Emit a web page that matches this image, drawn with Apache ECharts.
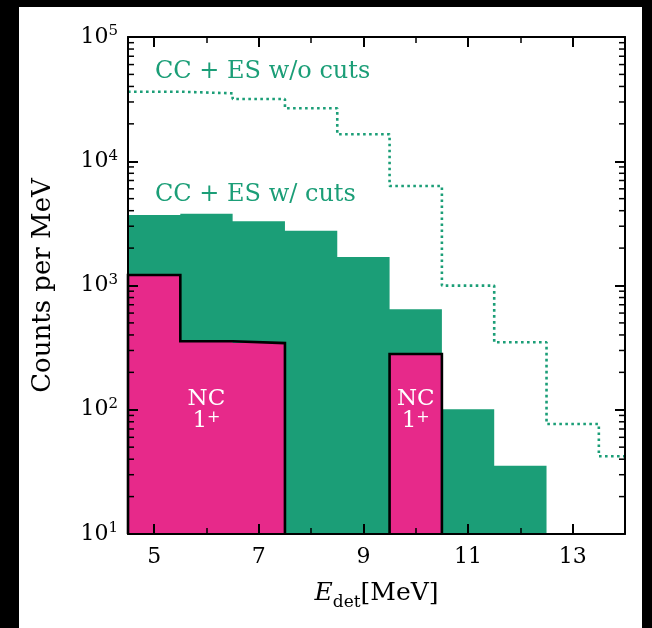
<!DOCTYPE html>
<html>
<head>
<meta charset="utf-8">
<script src="https://cdn.jsdelivr.net/npm/echarts@6/dist/echarts.min.js"></script>
<style>
html,body{margin:0;padding:0;background:#000;}
#bg{position:absolute;left:19px;top:7px;width:623px;height:621px;background:#fff;}
#c{position:absolute;left:0;top:0;width:652px;height:628px;}
</style>
</head>
<body>
<div id="bg"></div>
<div id="c"></div>
<script>
// ---- data ----
const binCenters = [5, 6, 7, 8, 9, 10, 11, 12, 13, 14];
const ccesNoCuts = [36300, 35200, 31700, 26700, 16500, 6320, 998, 349, 76.8, 42.2];
const ccesCuts   = [3690, 3785, 3290, 2762, 1695, 643, 101, 35.5, null, null];
const nc1plus    = [1216, 356, 344, null, null, 281, null, null, null, null];
const xMajorTicks = [5, 7, 9, 11, 13];
const xMinorTicks = [6, 8, 10, 12, 14];
const yMinorTicks = [20, 30, 40, 50, 60, 70, 80, 90,
                     200, 300, 400, 500, 600, 700, 800, 900,
                     2000, 3000, 4000, 5000, 6000, 7000, 8000, 9000,
                     20000, 30000, 40000, 50000, 60000, 70000, 80000, 90000];
const labelNoCuts = 'CC + ES w/o cuts';
const labelCuts = 'CC + ES w/ cuts';
const labelNC = ['NC', '1', '+'];

// ---- settings ----
const X_MIN = 4.5, X_MAX = 14, Y_MIN = 10, Y_MAX = 100000;
const GREEN = '#1b9e77', PINK = '#e7298a';
const FONT = 'DejaVu Serif';
const HALF = 0.5;

function stepGroups(vals, closeToBase) {
  const groups = [];
  let cur = null;
  binCenters.forEach((c, i) => {
    const v = vals[i];
    if (v == null) {
      if (cur) { if (closeToBase) cur.push([cur[cur.length - 1][0], Y_MIN]); groups.push(cur); cur = null; }
      return;
    }
    if (!cur) { cur = closeToBase ? [[c - HALF, Y_MIN], [c - HALF, v]] : [[c - HALF, v]]; }
    else cur.push([c - HALF, v]);
    cur.push([c + HALF, v]);
  });
  if (cur) { if (closeToBase) cur.push([cur[cur.length - 1][0], Y_MIN]); groups.push(cur); }
  return groups;
}

// filled step histogram: one polygon per contiguous group, placed via the axes' scales
function fillSeries(vals, color, z) {
  const groups = stepGroups(vals, true);
  return {
    type: 'custom', data: groups.map((g, k) => [g[0][0], k]), z: z, clip: true, silent: true,
    renderItem: function (params, api) {
      const g = groups[params.dataIndex];
      return {
        type: 'polygon',
        shape: { points: g.map(p => api.coord(p)) },
        style: { fill: color, stroke: null }
      };
    }
  };
}

const series = [];
series.push(fillSeries(ccesCuts, GREEN, 1));
stepGroups(ccesNoCuts, false).forEach(g => series.push({
  type: 'line', data: g, symbol: 'none', z: 2, clip: true, silent: true,
  lineStyle: { color: GREEN, width: 2.6, type: [2.6, 3.4], cap: 'butt' }
}));
series.push(fillSeries(nc1plus, PINK, 3));
stepGroups(nc1plus, true).forEach(g => series.push({
  type: 'line', data: g, symbol: 'none', z: 4, clip: false, silent: true,
  lineStyle: { color: '#000', width: 2.6, join: 'miter' }
}));
// y minor ticks on both sides
series.push({
  type: 'custom', data: yMinorTicks.map(v => [X_MIN, v]), z: 20, silent: true, clip: false,
  renderItem: function (params, api) {
    const v = api.value(1);
    const l = api.coord([X_MIN, v]);
    const r = api.coord([X_MAX, v]);
    const st = { stroke: '#000', lineWidth: 1.5 };
    return { type: 'group', children: [
      { type: 'line', shape: { x1: l[0], y1: l[1], x2: l[0] + 6, y2: l[1] }, style: st },
      { type: 'line', shape: { x1: r[0], y1: r[1], x2: r[0] - 6, y2: r[1] }, style: st }
    ]};
  }
});

function xAxisDef(position, ticks, len, withLine, withLabel) {
  return {
    type: 'value', min: X_MIN, max: X_MAX, position: position, z: 10,
    axisLine: { show: withLine, onZero: false, lineStyle: { color: '#000', width: 2 } },
    axisTick: { show: true, inside: true, length: len, customValues: ticks, lineStyle: { color: '#000', width: len > 7 ? 2 : 1.5 } },
    axisLabel: withLabel ? { show: true, customValues: ticks, margin: 12, fontFamily: FONT, fontSize: 22, color: '#000' } : { show: false },
    splitLine: { show: false }
  };
}

const xAxes = [
  xAxisDef('bottom', xMajorTicks, 10, true, true),
  xAxisDef('bottom', xMinorTicks, 6, false, false),
  xAxisDef('top', xMajorTicks, 10, true, false),
  xAxisDef('top', xMinorTicks, 6, false, false)
];
xAxes[0].name = '{i|E}{sub|det}{r|[MeV]}';
xAxes[0].nameLocation = 'middle';
xAxes[0].nameGap = 47;
xAxes[0].nameTextStyle = {
  rich: {
    i: { fontFamily: FONT, fontStyle: 'italic', fontSize: 25, color: '#000', lineHeight: 30, verticalAlign: 'top' },
    sub: { fontFamily: FONT, fontSize: 17, color: '#000', lineHeight: 17, verticalAlign: 'bottom' },
    r: { fontFamily: FONT, fontSize: 25, color: '#000', lineHeight: 30, verticalAlign: 'top' }
  }
};

function yAxisDef(position, withLabel) {
  return {
    type: 'log', logBase: 10, min: Y_MIN, max: Y_MAX, position: position, z: 10,
    axisLine: { show: true, onZero: false, lineStyle: { color: '#000', width: 2 } },
    axisTick: { show: true, inside: true, length: 10, lineStyle: { color: '#000', width: 2 } },
    axisLabel: withLabel ? {
      show: true, margin: 10,
      formatter: v => '{b|10}{s|' + Math.round(Math.log10(v)) + '}',
      rich: {
        b: { fontFamily: FONT, fontSize: 22, color: '#000', lineHeight: 26 },
        s: { fontFamily: FONT, fontSize: 15, color: '#000', lineHeight: 15, verticalAlign: 'top' }
      }
    } : { show: false },
    splitLine: { show: false },
    minorTick: { show: false }
  };
}
const yAxes = [yAxisDef('left', true), yAxisDef('right', false)];
yAxes[0].name = 'Counts per MeV';
yAxes[0].nameLocation = 'middle';
yAxes[0].nameGap = 72;
yAxes[0].nameTextStyle = { fontFamily: FONT, fontSize: 26, color: '#000' };

const chart = echarts.init(document.getElementById('c'), null, { renderer: 'canvas' });
chart.setOption({
  animation: false,
  backgroundColor: 'transparent',
  grid: { left: 128, top: 37, width: 497, height: 497, containLabel: false },
  xAxis: xAxes,
  yAxis: yAxes,
  series: series
});

// NC labels placed at data positions through the chart's scales
function ncLabel(xVal) {
  const p = chart.convertToPixel({ gridIndex: 0 }, [xVal, 100]);
  return {
    type: 'text', x: p[0], y: p[1], z: 50,
    style: {
      text: '{a|' + labelNC[0] + '}\n{a|' + labelNC[1] + '}{s|' + labelNC[2] + '}',
      align: 'center', verticalAlign: 'middle',
      rich: {
        a: { fontFamily: FONT, fontSize: 23, fill: '#fff', lineHeight: 22 },
        s: { fontFamily: FONT, fontSize: 16, fill: '#fff', lineHeight: 14, verticalAlign: 'top' }
      }
    }
  };
}
chart.setOption({ graphic: [
  { type: 'text', left: 155, top: 60, z: 50, style: { text: labelNoCuts, fill: GREEN, font: '24px "' + FONT + '"' } },
  { type: 'text', left: 155, top: 183, z: 50, style: { text: labelCuts, fill: GREEN, font: '24px "' + FONT + '"' } },
  ncLabel(6.0), ncLabel(10)
] });
</script>
</body>
</html>
